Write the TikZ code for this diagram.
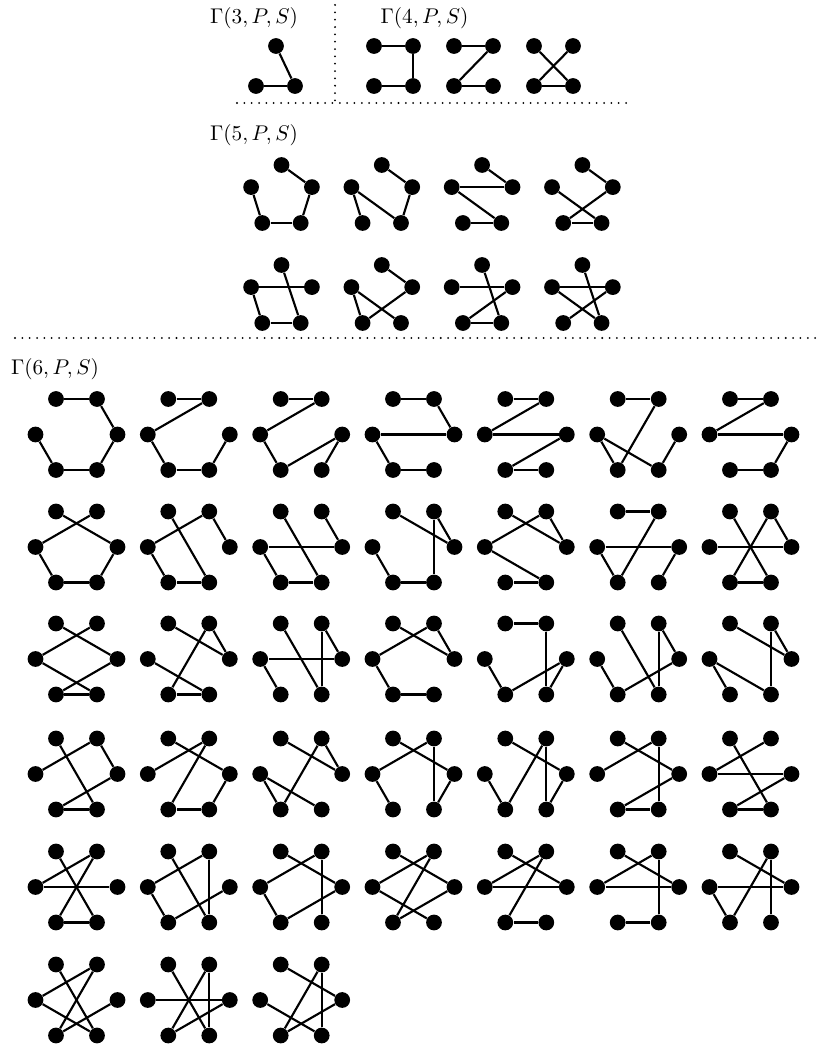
\documentclass[tikz,border=0pt]{standalone}
\usetikzlibrary{calc}
\tikzset{
  dot/.style={circle, fill=black, inner sep=0pt, minimum size=7.4pt},
  edge/.style={line width=1pt},
  sepline/.style={line width=0.95pt, dash pattern=on 0pt off 3.45pt, line cap=round},
  lab/.style={inner sep=0pt, font=\normalsize}
}
% hexagon graph: name, cx, cy, edges (a=TL b=TR c=R d=BR e=BL f=L)
\newcommand\hexgraph[4]{%
  \begin{scope}[shift={(#2,#3)}]
    \node[dot] (#1a) at (-20.5,-35.5) {};
    \node[dot] (#1b) at (20.5,-35.5) {};
    \node[dot] (#1c) at (41,0) {};
    \node[dot] (#1d) at (20.5,35.5) {};
    \node[dot] (#1e) at (-20.5,35.5) {};
    \node[dot] (#1f) at (-41,0) {};
  \end{scope}
  \foreach \u/\v in {#4} \draw[edge] (#1\u) -- (#1\v);
}
% pentagon graph: a=top b=UR c=BR d=BL e=UL
\newcommand\pentgraph[4]{%
  \begin{scope}[shift={(#2,#3)}]
    \node[dot] (#1a) at (0,-32) {};
    \node[dot] (#1b) at (30.4,-9.9) {};
    \node[dot] (#1c) at (19.2,26) {};
    \node[dot] (#1d) at (-19.2,26) {};
    \node[dot] (#1e) at (-30.4,-9.9) {};
  \end{scope}
  \foreach \u/\v in {#4} \draw[edge] (#1\u) -- (#1\v);
}
% square graph: a=TL b=TR c=BR d=BL
\newcommand\quadgraph[4]{%
  \begin{scope}[shift={(#2,#3)}]
    \node[dot] (#1a) at (-19.5,-20) {};
    \node[dot] (#1b) at (19.5,-20) {};
    \node[dot] (#1c) at (19.5,20) {};
    \node[dot] (#1d) at (-19.5,20) {};
  \end{scope}
  \foreach \u/\v in {#4} \draw[edge] (#1\u) -- (#1\v);
}
\begin{document}
\begin{tikzpicture}[x=0.47pt,y=-0.47pt]
\useasboundingbox (0,0) rectangle (817,1047);
\fill[white] (0,0) rectangle (817,1047);

% labels
\node[lab] (L3) at (254,18.5) {$\Gamma(3,P,S)$};
\node[lab] (L4) at (424.5,18.5) {$\Gamma(4,P,S)$};
\node[lab] (L5) at (254,135) {$\Gamma(5,P,S)$};
\node[lab] (L6) at (55,369) {$\Gamma(6,P,S)$};

% separators
\coordinate (v1) at (335,5);
\coordinate (v2) at (335,103);
\coordinate (h1) at (237,103);
\coordinate (h2) at (630,103);
\coordinate (h3) at (15,338);
\coordinate (h4) at (817,338);
\draw[sepline] (v1) -- (v2);
\draw[sepline] (h1) -- (h2);
\draw[sepline] (h3) -- (h4);

% Gamma(3)
\node[dot] (t3a) at (276,46) {};
\node[dot] (t3b) at (295,86) {};
\node[dot] (t3c) at (256,86) {};
\draw[edge] (t3a) -- (t3b);
\draw[edge] (t3b) -- (t3c);

% Gamma(4)
\quadgraph{q1}{393.5}{66}{a/b,b/c,c/d}
\quadgraph{q2}{473.5}{66}{a/b,b/d,d/c}
\quadgraph{q3}{553.5}{66}{a/c,b/d,d/c}

% Gamma(5)
\pentgraph{p1}{281.5}{197}{a/b,b/c,c/d,d/e}
\pentgraph{p2}{381.8}{197}{a/b,b/c,c/e,e/d}
\pentgraph{p3}{482.1}{197}{a/b,b/e,e/c,c/d}
\pentgraph{p4}{582.4}{197}{a/b,b/d,d/c,c/e}
\pentgraph{p5}{281.5}{297}{a/c,c/d,d/e,e/b}
\pentgraph{p6}{381.8}{297}{a/b,b/d,d/e,e/c}
\pentgraph{p7}{482.1}{297}{a/c,c/d,d/b,b/e}
\pentgraph{p8}{582.4}{297}{a/c,c/e,e/b,b/d}

% Gamma(6) row 1
\hexgraph{g1}{76.5}{434.5}{a/b,b/c,c/d,d/e,e/f}
\hexgraph{g2}{188.8}{434.5}{a/b,b/f,f/e,e/d,d/c}
\hexgraph{g3}{301.2}{434.5}{a/b,b/f,f/e,e/c,c/d}
\hexgraph{g4}{413.5}{434.5}{a/b,b/c,c/f,f/e,e/d}
\hexgraph{g5}{525.8}{434.5}{a/b,b/f,f/c,c/e,e/d}
\hexgraph{g6}{638.2}{434.5}{a/b,b/e,e/f,f/d,d/c}
\hexgraph{g7}{750.5}{434.5}{a/b,b/f,f/c,c/d,d/e}
% row 2
\hexgraph{g8}{76.5}{547}{a/c,c/d,d/e,e/f,f/b}
\hexgraph{g9}{188.8}{547}{a/d,d/e,e/f,f/b,b/c}
\hexgraph{g10}{301.2}{547}{a/d,d/e,e/f,f/c,c/b}
\hexgraph{g11}{413.5}{547}{a/c,c/b,b/d,d/e,e/f}
\hexgraph{g12}{525.8}{547}{a/c,c/b,b/f,f/d,d/e}
\hexgraph{g13}{638.2}{547}{a/b,b/e,e/f,f/c,c/d}
\hexgraph{g14}{750.5}{547}{a/d,d/e,e/b,b/c,c/f}
% row 3
\hexgraph{g15}{76.5}{659}{a/c,c/e,e/d,d/f,f/b}
\hexgraph{g16}{188.8}{659}{a/c,c/b,b/e,e/d,d/f}
\hexgraph{g17}{301.2}{659}{a/d,d/b,b/c,c/f,f/e}
\hexgraph{g18}{413.5}{659}{a/c,c/b,b/f,f/e,e/d}
\hexgraph{g19}{525.8}{659}{a/b,b/d,d/c,c/e,e/f}
\hexgraph{g20}{638.2}{659}{a/d,d/b,b/c,c/e,e/f}
\hexgraph{g21}{750.5}{659}{a/c,c/b,b/d,d/f,f/e}
% row 4
\hexgraph{g22}{76.5}{774}{a/d,d/e,e/c,c/b,b/f}
\hexgraph{g23}{188.8}{774}{a/c,c/d,d/e,e/b,b/f}
\hexgraph{g24}{301.2}{774}{a/c,c/b,b/e,e/f,f/d}
\hexgraph{g25}{413.5}{774}{a/c,c/d,d/b,b/f,f/e}
\hexgraph{g26}{525.8}{774}{a/c,c/d,d/b,b/e,e/f}
\hexgraph{g27}{638.2}{774}{a/c,c/e,e/d,d/b,b/f}
\hexgraph{g28}{750.5}{774}{a/d,d/e,e/c,c/f,f/b}
% row 5
\hexgraph{g29}{76.5}{887}{a/d,d/e,e/b,b/f,f/c}
\hexgraph{g30}{188.8}{887}{a/d,d/b,b/f,f/e,e/c}
\hexgraph{g31}{301.2}{887}{a/c,c/e,e/f,f/b,b/d}
\hexgraph{g32}{413.5}{887}{a/c,c/e,e/b,b/f,f/d}
\hexgraph{g33}{525.8}{887}{a/c,c/f,f/b,b/e,e/d}
\hexgraph{g34}{638.2}{887}{a/c,c/f,f/b,b/d,d/e}
\hexgraph{g35}{750.5}{887}{a/c,c/f,f/e,e/b,b/d}
% row 6
\hexgraph{g36}{76.5}{1000}{a/d,d/f,f/b,b/e,e/c}
\hexgraph{g37}{188.8}{1000}{a/d,d/b,b/e,e/c,c/f}
\hexgraph{g38}{301.2}{1000}{a/c,c/e,e/b,b/d,d/f}
\end{tikzpicture}
\end{document}
